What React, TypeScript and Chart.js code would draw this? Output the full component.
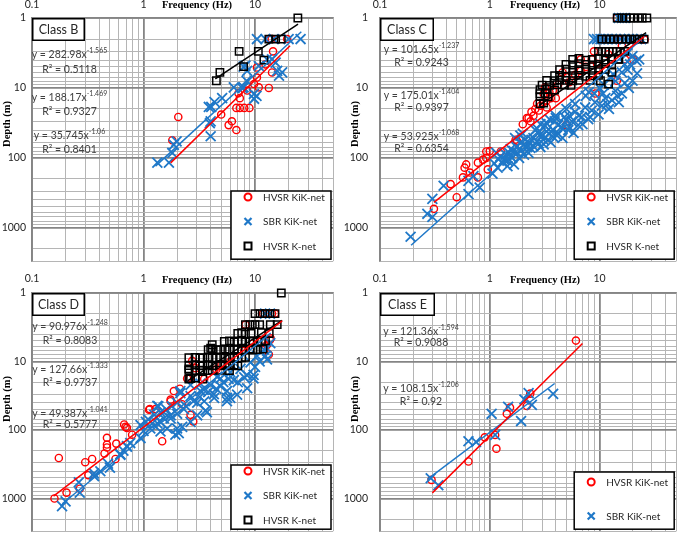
import React, { useEffect, useRef } from 'react';
import { Chart, registerables } from 'chart.js';

Chart.register(...registerables);

type P = [number, number];

// ---------- axes ----------
const X_MIN = 0.1;
const X_MAX = 50;
const Y_MIN = 1;
const Y_MAX = 3000;
const X_TICK_LABELS = [0.1, 1, 10];
const Y_TICK_LABELS = [1, 10, 100, 1000];
const X_TITLE = 'Frequency (Hz)';
const Y_TITLE = 'Depth (m)';
const SERIES_NAMES = ['HVSR KiK-net', 'SBR KiK-net', 'HVSR K-net'];

// ---------- Class B ----------
const B_HVSR_KIK: P[] = [[2.05,26],[1.81,56],[4.97,24],[5.8,34],[6.2,30],[6.8,40],[6.8,19.3],[7.3,19.3],[8.0,19.3],[8.9,19.3],[7.3,14],[7.1,11.9],[8.5,10.9],[9.8,8.8],[10.8,9.8],[10.4,7.1],[13.3,10],[10.4,5.1],[14.5,3.0],[13.3,2],[14.1,2],[19.4,2],[12.4,4.6],[14.2,6.0]];
const B_SBR_KIK: P[] = [[1.33,117],[1.69,117],[1.81,85],[1.87,65],[1.98,58],[4.0,49],[3.93,32],[4.0,30],[3.85,18.7],[4.05,18.7],[5.07,14],[4.33,15.9],[6.45,9.8],[7.9,9.8],[7.7,10.1],[8.4,7.9],[8.2,4.8],[9.77,12.2],[9.8,14.3],[10.3,13],[10.4,2],[12.4,2],[14.7,2],[20,2],[25.6,2],[8.5,5.7],[10.8,4.85],[12.8,3.9],[14.2,3.9],[15.3,4.35],[15.8,5.7],[16.4,6.7],[17.5,6.0],[7.9,4.95]];
const B_HVSR_KNET: P[] = [[24.2,1.0],[13.3,2],[15.3,2],[17.2,2],[7.2,3],[10.7,3],[12,4],[7.9,4.95],[4.84,6],[4.5,7.9]];
const B_FIT_HVSR_KIK: P[] = [[1.75,117.9],[20.6,2.49]];
const B_FIT_SBR_KIK: P[] = [[1.28,131],[26,1.57]];
const B_FIT_HVSR_KNET: P[] = [[4.4,7.43],[24.3,1.22]];
const B_EQ_COEF = ['282.98', '188.17', '35.745'];
const B_EQ_EXP = ['-1.565', '-1.469', '-1.06'];
const B_EQ_R2 = ['0.5118', '0.9327', '0.8401'];

// ---------- Class C ----------
const C_HVSR_KIK: P[] = [[0.31,535],[0.5,365],[0.44,237],[0.57,190],[0.66,162],[0.61,124],[0.59,138],[0.78,117],[0.78,190],[0.87,106],[0.93,81],[0.93,100],[0.96,146],[1.0,80],[1.26,81],[1.72,55],[1.78,58],[2.18,27],[2.26,27],[2.4,22],[2.6,20],[2.9,18],[2.7,16.8],[3.1,15.9],[3.3,15.1],[3.1,12.1],[3.5,11.5],[3.78,10.8],[3.19,9.8],[3.6,14],[4.2,9],[4.6,6],[5.0,7],[5.3,8.3],[6.0,6.5],[6.75,5.7],[6.75,3.9],[7.5,5],[8.5,3.9],[8.9,3],[9.5,4.5],[9.2,12],[10.2,2.04],[12,3.3],[14.9,2.04],[16,2.5],[14.4,7.9],[14.4,1.0],[17.1,3.9],[20.2,3.9],[25.8,2.04],[4.97,34],[2.0,33],[2.5,25],[2.8,21],[3.3,19],[4.0,14],[2.35,30]];
const C_SBR_KIK: P[] = [[0.19,1340],[0.27,630],[0.30,700],[0.30,385],[0.38,250],[0.64,330],[0.64,213],[0.71,182],[0.81,265],[1.06,168],[1.18,138],[1.45,131],[1.66,124],[1.35,106],[1.6,100],[1.78,85],[1.5,85],[1.55,75],[2.26,85],[2.34,72],[2.04,65],[2.5,52],[2.87,47],[3.3,42],[3.78,40],[4.6,38],[5.3,36],[3.08,55],[3.78,50],[4.6,52],[4.2,34],[5.0,29],[5.3,25],[2.7,38],[3.3,32],[4.0,27],[1.7,52],[1.9,60],[2.0,45],[2.2,70],[2.4,55],[2.6,40],[2.8,62],[3.0,48],[3.2,35],[3.4,55],[3.6,42],[3.9,30],[4.2,45],[4.5,36],[4.8,26],[5.2,40],[5.6,30],[6.0,22],[6.4,34],[6.9,26],[7.4,19],[7.9,28],[8.5,21],[9.1,16],[9.8,24],[10.5,18],[11.3,14],[12.2,20],[13,15],[14,11],[15,16],[16,12],[17,8.5],[18.5,10],[20,7.9],[22,6.2],[19,4.6],[21.7,4.1],[23,3.9],[17,4.6],[13.5,6.5],[11,9],[9,12],[7.5,13],[6,17],[5,20],[4,25],[3.5,28],[2.9,33],[14,8],[12.5,7],[16,6],[18,5.5],[10,10],[8,11.5],[18,3.2],[20,3.5],[8.9,2],[9.5,2],[10.2,2],[11,2],[12,2],[13,2],[14,2],[15.5,2],[17,2],[18.5,2],[20,2],[22,2],[24,2],[15,1],[16,1],[17,1],[1.1,120],[1.2,105],[1.25,95],[1.3,115],[1.4,90],[1.45,110],[1.55,95],[1.65,80],[1.75,70],[1.85,100],[1.95,78],[2.05,90],[1.15,85],[1.9,48],[2.1,55],[2.3,62],[2.5,68],[2.7,58],[2.9,70],[3.1,64],[3.6,60],[4.1,48],[5.8,44],[7.0,33],[8.2,26],[6.5,25],[11.8,17],[14.5,13],[10.8,12]];
const C_HVSR_KNET: P[] = [[14.5,1],[16,1],[17.5,1],[19,1],[20.5,1],[22.5,1],[24.5,1],[27,1],[10.5,2],[11.5,2],[12.5,2],[13.5,2],[14.8,2],[16,2],[17.5,2],[19,2],[21,2],[23,2],[25.5,2],[9.8,3],[10.5,3],[11.3,3],[12.2,3],[13.2,3],[14.3,3],[15.5,3],[17,3],[5.7,3.9],[6.5,3.8],[7.5,4.0],[8.6,3.9],[9.8,3.8],[11.3,4.0],[12.9,3.9],[14.8,3.9],[4.95,4.6],[5.7,4.7],[6.5,4.5],[7.5,4.6],[8.6,4.7],[9.8,4.6],[11.3,4.5],[12.9,4.6],[4.33,5.5],[4.95,5.4],[5.7,5.6],[6.5,5.5],[7.5,5.4],[8.6,5.6],[9.8,5.5],[11.3,5.4],[3.9,6.7],[4.33,6.6],[4.95,6.8],[5.7,6.7],[6.5,6.6],[7.5,6.8],[8.6,6.7],[9.8,6.6],[3.3,7.8],[3.9,7.9],[4.33,7.7],[4.95,7.8],[5.7,7.9],[6.5,7.8],[8.2,7.8],[3.0,9.1],[3.5,9.2],[4.1,9.0],[4.8,9.1],[5.5,9.2],[2.87,10.6],[3.3,10.5],[3.9,10.7],[2.87,12.1],[3.2,12.0],[2.87,13.3],[3.4,13.4],[2.87,16.8],[3.1,16.5],[10.2,7.9],[12.1,8.8],[15,3.9],[13,6]];
const C_FIT_HVSR_KIK: P[] = [[0.31,432.8],[25.5,1.85]];
const C_FIT_SBR_KIK: P[] = [[0.192,1775],[24,2.02]];
const C_FIT_HVSR_KNET: P[] = [[2.8,17.96],[26.6,1.62]];
const C_EQ_COEF = ['101.65', '175.01', '53.925'];
const C_EQ_EXP = ['-1.237', '-1.404', '-1.068'];
const C_EQ_R2 = ['0.9243', '0.9397', '0.6354'];

// ---------- Class D ----------
const D_HVSR_KIK: P[] = [[0.174,256],[0.159,1000],[0.204,820],[0.268,720],[0.30,295],[0.346,265],[0.32,455],[0.447,220],[0.47,180],[0.47,163],[0.47,130],[0.57,158],[0.56,265],[0.67,83],[0.69,90],[0.71,93],[0.79,117],[1.12,50.5],[1.28,49.5],[1.14,49.5],[1.47,146],[1.75,38],[1.75,36],[1.87,27],[2.12,25],[2.22,42],[2.64,60],[2.79,75],[2.46,17.7],[2.6,17.7],[2.73,9.8],[2.93,12.5],[3.5,18],[4.5,13],[5,11],[6,10],[8,7],[9.5,5.5],[12.5,6],[12.8,5.7],[13.3,7.9],[13.6,4.85],[13.8,4.6],[11.8,2],[14.2,2],[15.1,2],[8.2,2.9]];
const D_SBR_KIK: P[] = [[0.186,1290],[0.2,1100],[0.268,820],[0.263,580],[0.36,470],[0.36,430],[0.41,400],[0.48,310],[0.5,355],[0.62,230],[0.62,225],[0.66,200],[0.71,172],[0.71,175],[0.76,155],[0.94,131],[0.94,85],[1.0,103],[1.05,76],[1.15,95],[1.2,80],[1.33,80],[1.36,45],[1.42,105],[1.42,55],[1.52,68],[1.63,95],[1.75,61],[1.75,68],[1.93,117],[2.0,58],[2.0,95],[2.07,111],[2.22,90],[2.64,76],[3.03,61],[3.6,52],[1.33,44.5],[1.52,55],[2.0,40],[2.3,49.5],[2.64,32],[3.03,40],[3.47,26],[3.7,55],[4.27,30],[4.9,23],[5.6,34],[6.0,34],[6.45,18.7],[4.57,16.8],[3.24,21],[2.14,29],[2.14,27],[2.64,22],[3.24,27],[4.0,22],[4.9,17.7],[5.6,27],[6.0,14.3],[7.4,12.8],[8.5,15.9],[9.1,10.3],[10.4,8.3],[9.7,17.7],[9.7,15.7],[12,6.7],[12.8,9.3],[12.8,6.4],[12.4,8.3],[13.7,5.4],[8.5,24.6],[6.9,30.5],[4.3,34],[3.5,38],[5.6,38],[13.6,2],[12.3,2],[1.1,70],[1.25,60],[1.4,75],[1.6,50],[1.8,45],[2.4,45],[2.8,38],[3.2,33],[3.8,28],[4.5,25],[5.2,20],[5.8,18],[7,20],[8,17],[10,12],[11,10]];
const D_HVSR_KNET: P[] = [[17.2,1.0],[10,2],[11.1,2],[12.3,2],[13.6,2],[15.1,2],[8.2,2.9],[9.0,2.9],[10,2.9],[11,2.9],[13.7,2.9],[15.8,2.9],[7.0,3.9],[7.6,3.8],[8.2,4.0],[9.2,3.9],[11.4,3.8],[13.4,3.9],[5.3,5.1],[5.9,5.0],[6.5,5.2],[7.0,5.1],[7.6,5.0],[8.2,5.2],[9.0,5.1],[9.6,5.0],[10.5,5.2],[11.4,5.1],[12.4,5.0],[4.13,5.7],[3.8,6.7],[4.13,6.6],[4.5,6.8],[4.9,6.7],[5.4,6.6],[5.9,6.8],[6.5,6.7],[7.0,6.6],[7.6,6.8],[8.2,6.7],[9.0,6.6],[9.6,6.8],[10.5,6.7],[11.8,6.6],[2.55,8.8],[2.9,8.7],[3.2,8.9],[3.4,8.8],[3.8,8.7],[4.13,8.9],[4.5,8.8],[4.9,8.7],[5.4,8.9],[5.9,8.8],[6.5,8.7],[7.0,8.9],[7.6,8.8],[8.2,8.7],[2.55,11.5],[2.9,11.3],[3.2,11.6],[3.4,11.5],[3.8,11.3],[4.13,11.6],[4.5,11.5],[4.9,11.3],[5.4,11.6],[5.9,11.5],[6.5,11.3],[7.0,11.6],[2.55,13.5],[2.9,13.6],[3.2,13.4],[3.4,13.5],[3.8,13.6],[4.13,13.4],[4.9,13.5],[5.9,13.6],[2.55,18],[2.9,17.5],[3.4,18],[2.55,12.8],[2.64,17.7],[4.0,6.4]];
const D_FIT_HVSR_KIK: P[] = [[0.156,924.7],[17.5,2.556]];
const D_FIT_SBR_KIK: P[] = [[0.187,1193],[13.8,3.86]];
const D_FIT_HVSR_KNET: P[] = [[2.5,19.02],[17.5,2.51]];
const D_EQ_COEF = ['90.976', '127.66', '49.387'];
const D_EQ_EXP = ['-1.248', '-1.333', '-1.041'];
const D_EQ_R2 = ['0.8083', '0.9737', '0.5777'];

// ---------- Class E ----------
const E_HVSR_KIK: P[] = [[6.1,4.95],[2.34,29.4],[2.18,44.5],[1.53,47],[1.43,58],[1.12,118],[0.9,128],[1.15,187],[0.64,288],[0.295,535]];
const E_SBR_KIK: P[] = [[3.78,29.7],[2.42,43],[2.26,29],[2.07,35.9],[1.47,45.8],[1.93,74],[1.04,58],[1.12,118],[0.64,146],[0.75,149],[0.29,506],[0.34,641]];
const E_FIT_HVSR_KIK: P[] = [[0.30,827],[7.0,5.46]];
const E_FIT_SBR_KIK: P[] = [[0.27,524.5],[3.9,20.95]];
const E_EQ_COEF = ['121.36', '108.15'];
const E_EQ_EXP = ['-1.594', '-1.206'];
const E_EQ_R2 = ['0.9088', '0.92'];

// ---------- styles ----------
const RED = '#ff0000';
const BLUE = '#1f78c8';
const BLACK = '#000000';
const SERIES_COLORS = [RED, BLUE, BLACK];
const SERIES_STYLES = ['circle', 'crossRot', 'rect'];
const SERIES_RADIUS = [3.6, 7, 5.2];
const SERIES_BW = [1.4, 1.8, 1.5];
const SANS = 'Lato, "Liberation Sans", sans-serif';
const SERIF = '"Liberation Serif", "Times New Roman", serif';
const MAJOR_GRID = '#858585';
const MINOR_GRID = '#b5b5b5';

type PanelCfg = {
  title: string;
  left: number; top: number; w: number; h: number;
  axisW: number; axisH: number; padR: number; padB: number;
  yPad: number; xPad: number;
  eqDX: number; eqRows: number[][]; legendTop: number; boxW: number;
  series: P[][]; fits: P[][];
  eqCoef: string[]; eqExp: string[]; eqR2: string[];
};

const PANELS: PanelCfg[] = [
  { title: 'Class B', left: 0, top: 0, w: 342, h: 270, axisW: 32, axisH: 18, padR: 9, padB: 5, yPad: 6, xPad: 7,
    eqDX: 37.5, eqRows: [[37, 52], [80, 94], [118, 132]], legendTop: 191, boxW: 53,
    series: [B_HVSR_KIK, B_SBR_KIK, B_HVSR_KNET], fits: [B_FIT_HVSR_KIK, B_FIT_SBR_KIK, B_FIT_HVSR_KNET],
    eqCoef: B_EQ_COEF, eqExp: B_EQ_EXP, eqR2: B_EQ_R2 },
  { title: 'Class C', left: 342, top: 0, w: 343, h: 270, axisW: 38, axisH: 18, padR: 3, padB: 5, yPad: 12, xPad: 7,
    eqDX: 41.5, eqRows: [[32, 45], [78, 90], [119, 131]], legendTop: 191, boxW: 54,
    series: [C_HVSR_KIK, C_SBR_KIK, C_HVSR_KNET], fits: [C_FIT_HVSR_KIK, C_FIT_SBR_KIK, C_FIT_HVSR_KNET],
    eqCoef: C_EQ_COEF, eqExp: C_EQ_EXP, eqR2: C_EQ_R2 },
  { title: 'Class D', left: 0, top: 270, w: 342, h: 270, axisW: 32, axisH: 23, padR: 9, padB: 0, yPad: 6, xPad: 8,
    eqDX: 38, eqRows: [[34, 48], [77, 90], [121, 132]], legendTop: 195, boxW: 53,
    series: [D_HVSR_KIK, D_SBR_KIK, D_HVSR_KNET], fits: [D_FIT_HVSR_KIK, D_FIT_SBR_KIK, D_FIT_HVSR_KNET],
    eqCoef: D_EQ_COEF, eqExp: D_EQ_EXP, eqR2: D_EQ_R2 },
  { title: 'Class E', left: 342, top: 270, w: 343, h: 270, axisW: 38, axisH: 23, padR: 3, padB: 0, yPad: 12, xPad: 8,
    eqDX: 41, eqRows: [[39, 50], [96, 109]], legendTop: 202, boxW: 55,
    series: [E_HVSR_KIK, E_SBR_KIK], fits: [E_FIT_HVSR_KIK, E_FIT_SBR_KIK],
    eqCoef: E_EQ_COEF, eqExp: E_EQ_EXP, eqR2: E_EQ_R2 },
];

function isMajor(v: number): boolean {
  if (!(v > 0)) return false;
  const l = Math.log10(v);
  return Math.abs(l - Math.round(l)) < 1e-9;
}

function logTicks(majors: number[], max: number): number[] {
  const out: number[] = [];
  for (const m of majors) {
    for (let k = 1; k <= 9; k++) {
      const v = Number((k * m).toPrecision(6));
      if (v <= max) out.push(v);
    }
  }
  if (!out.includes(max)) out.push(max);
  return out;
}

function drawMarker(ctx: CanvasRenderingContext2D, i: number, x: number, y: number) {
  ctx.save();
  ctx.strokeStyle = SERIES_COLORS[i];
  ctx.lineWidth = 2;
  ctx.beginPath();
  if (i === 0) {
    ctx.arc(x, y, 3.5, 0, Math.PI * 2);
  } else if (i === 1) {
    ctx.lineWidth = 2.2;
    ctx.moveTo(x - 3.5, y - 3.5); ctx.lineTo(x + 3.5, y + 3.5);
    ctx.moveTo(x + 3.5, y - 3.5); ctx.lineTo(x - 3.5, y + 3.5);
  } else {
    ctx.rect(x - 3.5, y - 3.5, 7, 7);
  }
  ctx.stroke();
  ctx.restore();
}

const overlayPlugin = {
  id: 'overlay',
  afterDatasetsDraw(chart: any, _args: any, opts: any) {
    const p: PanelCfg = opts.panel;
    const ctx: CanvasRenderingContext2D = chart.ctx;
    const ca = chart.chartArea;
    ctx.save();

    // axis titles
    ctx.fillStyle = '#000';
    ctx.font = `bold 10.5px ${SERIF}`;
    ctx.textAlign = 'center';
    ctx.textBaseline = 'middle';
    ctx.fillText(X_TITLE, ca.left + 165, ca.top - 13);
    ctx.save();
    ctx.translate(ca.left - 25, ca.top + 106);
    ctx.rotate(-Math.PI / 2);
    ctx.fillText(Y_TITLE, 0, 0);
    ctx.restore();

    // class box
    ctx.fillStyle = '#fff';
    ctx.fillRect(ca.left, ca.top, p.boxW, 23);
    ctx.strokeStyle = '#000';
    ctx.lineWidth = 1.5;
    ctx.strokeRect(ca.left + 0.75, ca.top + 0.75, p.boxW - 1.5, 21.5);
    ctx.fillStyle = '#262626';
    ctx.font = `12.5px ${SANS}`;
    ctx.fillText(p.title, ca.left + p.boxW / 2, ca.top + 12);

    // equations
    ctx.fillStyle = '#404040';
    const cx = ca.left + p.eqDX;
    p.eqCoef.forEach((coef, i) => {
      const [y1, y2] = p.eqRows[i];
      const main = `y = ${coef}x`;
      ctx.font = `10.5px ${SANS}`;
      const w1 = ctx.measureText(main).width;
      ctx.font = `7px ${SANS}`;
      const w2 = ctx.measureText(p.eqExp[i]).width;
      const x0 = cx - (w1 + w2) / 2;
      ctx.textAlign = 'left';
      ctx.font = `10.5px ${SANS}`;
      ctx.fillText(main, x0, ca.top + y1);
      ctx.font = `7px ${SANS}`;
      ctx.fillText(p.eqExp[i], x0 + w1, ca.top + y1 - 4);
      ctx.textAlign = 'center';
      ctx.font = `10.5px ${SANS}`;
      ctx.fillText(`R² = ${p.eqR2[i]}`, cx, ca.top + y2);
    });

    // legend
    const n = p.series.length;
    const lx0 = ca.right - 102;
    const lx1 = ca.right - 2;
    const ly0 = p.legendTop;
    const ly1 = ca.bottom - 2;
    ctx.fillStyle = '#fff';
    ctx.fillRect(lx0, ly0, lx1 - lx0, ly1 - ly0);
    ctx.strokeStyle = '#000';
    ctx.lineWidth = 1.5;
    ctx.strokeRect(lx0, ly0, lx1 - lx0, ly1 - ly0);
    const rows = n === 3 ? [6, 30.5, 55] : [10, 44];
    ctx.font = `10px ${SANS}`;
    ctx.textAlign = 'left';
    for (let i = 0; i < n; i++) {
      const y = ly0 + rows[i];
      drawMarker(ctx, i, lx0 + 17, y);
      ctx.fillStyle = '#262626';
      ctx.fillText(SERIES_NAMES[i], lx0 + 32, y + 0.5);
    }
    ctx.restore();
  },
};

function buildConfig(p: PanelCfg): any {
  const xTicks = logTicks(X_TICK_LABELS, X_MAX);
  const yTicks = logTicks(Y_TICK_LABELS, Y_MAX);
  const datasets: any[] = [];
  p.fits.forEach((f, i) => {
    datasets.push({
      label: SERIES_NAMES[i] + ' fit',
      data: f.map(([x, y]) => ({ x, y })),
      showLine: true,
      borderColor: SERIES_COLORS[i],
      borderWidth: 1.5,
      pointRadius: 0,
      fill: false,
      order: 0,
      clip: false,
    });
  });
  p.series.forEach((s, i) => {
    datasets.push({
      label: SERIES_NAMES[i],
      data: s.map(([x, y]) => ({ x, y })),
      showLine: false,
      pointStyle: SERIES_STYLES[i],
      pointRadius: SERIES_RADIUS[i],
      pointBorderWidth: SERIES_BW[i],
      borderColor: SERIES_COLORS[i],
      pointBorderColor: SERIES_COLORS[i],
      backgroundColor: 'rgba(0,0,0,0)',
      pointBackgroundColor: 'rgba(0,0,0,0)',
      order: 10 - i,
      clip: false,
    });
  });
  const gridOpts = {
    color: (c: any) => (isMajor(c.tick?.value) ? MAJOR_GRID : MINOR_GRID),
    lineWidth: (c: any) => (isMajor(c.tick?.value) ? 1.8 : 1),
    drawTicks: false,
  };
  return {
    type: 'scatter',
    data: { datasets },
    plugins: [overlayPlugin],
    options: {
      responsive: false,
      animation: false,
      devicePixelRatio: 1,
      layout: { padding: { left: 0, top: 0, right: p.padR, bottom: p.padB } },
      scales: {
        x: {
          type: 'logarithmic',
          position: 'top',
          min: X_MIN,
          max: X_MAX,
          grid: gridOpts,
          border: { display: true, color: MAJOR_GRID, width: 1.8 },
          afterBuildTicks: (s: any) => { s.ticks = xTicks.map((v) => ({ value: v, major: isMajor(v) })); },
          afterFit: (s: any) => { s.height = p.axisH; s.paddingLeft = 0; s.paddingRight = 0; },
          ticks: {
            autoSkip: false,
            maxRotation: 0,
            minRotation: 0,
            padding: p.xPad,
            color: '#262626',
            font: { family: SANS, size: 10.5 },
            callback: (v: any) => (X_TICK_LABELS.some((m) => Math.abs(m - v) < 1e-9) ? String(v) : ''),
          },
        },
        y: {
          type: 'logarithmic',
          position: 'left',
          reverse: true,
          min: Y_MIN,
          max: Y_MAX,
          grid: gridOpts,
          border: { display: true, color: MAJOR_GRID, width: 1.8 },
          afterBuildTicks: (s: any) => { s.ticks = yTicks.map((v) => ({ value: v, major: isMajor(v) })); },
          afterFit: (s: any) => { s.width = p.axisW; s.paddingTop = 0; s.paddingBottom = 0; },
          ticks: {
            autoSkip: false,
            padding: p.yPad,
            color: '#262626',
            font: { family: SANS, size: 10.5 },
            callback: (v: any) => (Y_TICK_LABELS.some((m) => Math.abs(m - v) < 1e-9) ? String(v) : ''),
          },
        },
      },
      plugins: {
        legend: { display: false },
        tooltip: { enabled: false },
        overlay: { panel: p },
      },
    },
  };
}

function Panel({ cfg }: { cfg: PanelCfg }) {
  const ref = useRef<HTMLCanvasElement>(null);
  useEffect(() => {
    if (!ref.current) return;
    const chart = new Chart(ref.current, buildConfig(cfg));
    return () => chart.destroy();
  }, [cfg]);
  return (
    <canvas
      ref={ref}
      width={cfg.w}
      height={cfg.h}
      style={{ position: 'absolute', left: cfg.left, top: cfg.top, width: cfg.w, height: cfg.h }}
    />
  );
}

export default function App() {
  return (
    <div style={{ position: 'absolute', left: 0, top: 0, width: 685, height: 540, background: '#fff', overflow: 'hidden' }}>
      {PANELS.map((p) => (
        <Panel key={p.title} cfg={p} />
      ))}
    </div>
  );
}
